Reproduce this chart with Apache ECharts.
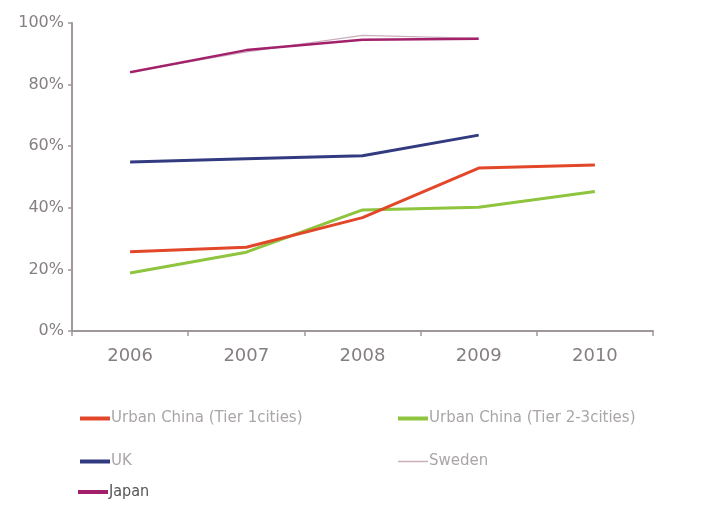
<!DOCTYPE html>
<html>
<head>
<meta charset="utf-8">
<script src="https://cdn.jsdelivr.net/npm/echarts@6/dist/echarts.min.js"></script>
<style>
  html, body { margin: 0; padding: 0; background: #fff; }
  #chart { width: 702px; height: 506px; }
</style>
</head>
<body>
<div id="chart"></div>
<script>
// 年份
var years = ['2006', '2007', '2008', '2009', '2010']
// 各系列数据 (%)
var tier1 = [25.7, 27.2, 36.8, 52.9, 53.9]
var tier23 = [18.8, 25.6, 39.3, 40.2, 45.3]
var uk = [54.9, 55.9, 56.9, 63.6]
var sweden = [84, 90.6, 96, 95]
var japan = [84, 91.2, 94.6, 94.9]
// y轴刻度
var yTicks = [0, 20, 40, 60, 80, 100]

var names = {
  tier1: 'Urban China (Tier 1cities)',
  tier23: 'Urban China (Tier 2-3cities)',
  uk: 'UK',
  sweden: 'Sweden',
  japan: 'Japan'
}

var axisColor = '#a09898'
var labelColor = '#857f7f'
var font = 'DejaVu Sans'
var narrow = "'DejaVu Sans Condensed', 'Liberation Sans', sans-serif"

// 图例：每项单独定位
function legendAt (name, left, top, height, textColor, textFont, size) {
  return {
    data: [name],
    left: left,
    top: top,
    icon: 'rect',
    itemWidth: 30,
    itemHeight: height,
    itemGap: 0,
    padding: 0,
    selectedMode: false,
    textStyle: {
      color: textColor || '#aaa6a6',
      fontSize: size || 15,
      fontFamily: textFont || font,
      padding: [0, 0, 0, -4]
    }
  }
}

var chart = echarts.init(document.getElementById('chart'))
var option = {
  animation: false,
  backgroundColor: '#fff',
  grid: {
    left: 72,
    right: 49,
    top: 23,
    bottom: 175
  },
  legend: [
    legendAt(names.tier1, 80, 411, 4),
    legendAt(names.tier23, 398, 411, 4),
    legendAt(names.uk, 80, 454, 4),
    legendAt(names.sweden, 398, 454, 1.5),
    legendAt(names.japan, 78, 484, 4, '#555', narrow, 16)
  ],
  xAxis: {
    type: 'category',
    boundaryGap: true,
    data: years,
    axisLine: { lineStyle: { color: axisColor, width: 2 } },
    axisTick: { show: true, alignWithLabel: false, length: 5, lineStyle: { color: axisColor, width: 1.5 } },
    axisLabel: { color: labelColor, fontSize: 18, fontFamily: font, margin: 16 }
  },
  yAxis: {
    type: 'value',
    min: yTicks[0],
    max: yTicks[yTicks.length - 1],
    interval: 20,
    axisLine: { show: true, lineStyle: { color: axisColor, width: 2 } },
    axisTick: { show: true, length: 4, lineStyle: { color: axisColor, width: 1.5 } },
    splitLine: { show: false },
    axisLabel: {
      color: labelColor,
      fontSize: 16,
      fontFamily: font,
      margin: 8,
      formatter: function (v) { return v + '%' }
    }
  },
  series: [
    {
      name: names.sweden, type: 'line', data: sweden, symbol: 'none',
      color: '#c9aebb', lineStyle: { width: 1.2, color: '#c9aebb' }
    },
    {
      name: names.japan, type: 'line', data: japan, symbol: 'none',
      color: '#a3216b', lineStyle: { width: 2.5, color: '#a3216b' }
    },
    {
      name: names.uk, type: 'line', data: uk, symbol: 'none',
      color: '#323a80', lineStyle: { width: 3, color: '#323a80' }
    },
    {
      name: names.tier23, type: 'line', data: tier23, symbol: 'none',
      color: '#8fc43e', lineStyle: { width: 3, color: '#8fc43e' }
    },
    {
      name: names.tier1, type: 'line', data: tier1, symbol: 'none',
      color: '#e2472a', lineStyle: { width: 3, color: '#e2472a' }
    }
  ]
}
chart.setOption(option)
</script>
</body>
</html>
